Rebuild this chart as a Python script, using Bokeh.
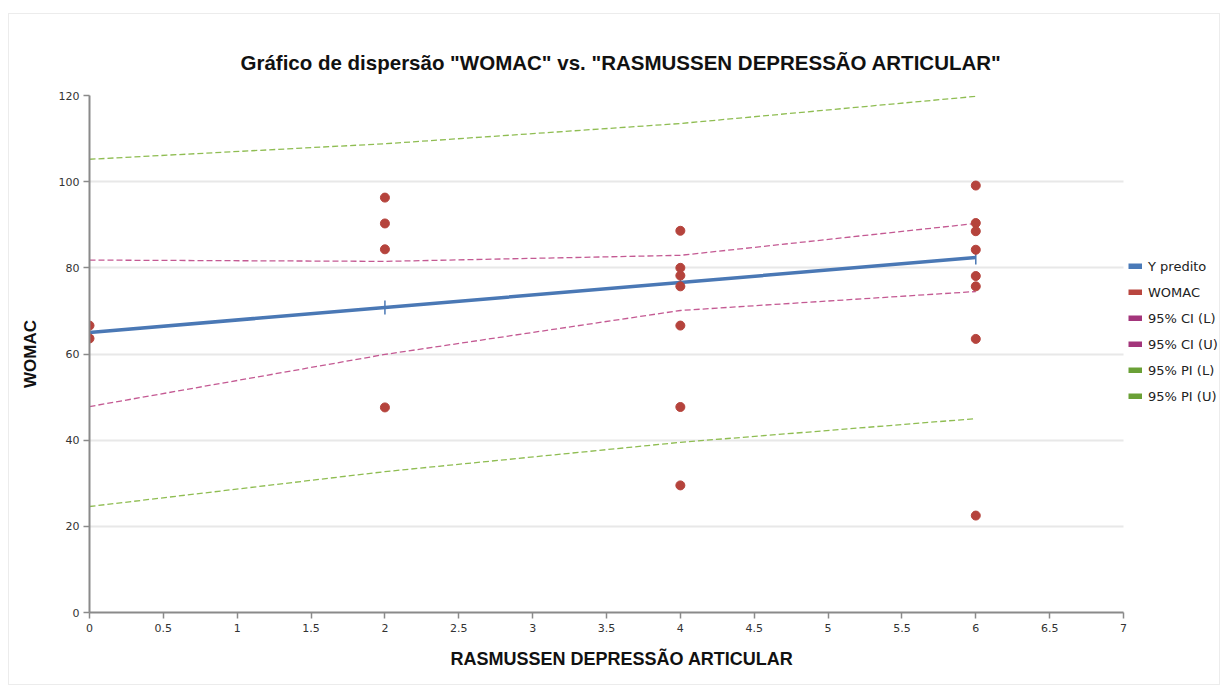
from bokeh.plotting import figure
from bokeh.models import (Range1d, FixedTicker, Legend, LegendItem, Title)
from bokeh.embed import file_html
from bokeh.resources import INLINE

# ---- data ----
x_obs = [0, 0, 2, 2, 2, 2, 4, 4, 4, 4, 4, 4, 4, 6, 6, 6, 6, 6, 6, 6, 6]
womac_obs = [66.6, 63.6, 96.3, 90.3, 84.3, 47.6, 88.6, 80.0, 78.2, 75.7, 66.6, 47.7, 29.5,
             99.1, 90.4, 88.5, 84.2, 78.1, 75.7, 63.5, 22.5]
x_pred = [0, 2, 4, 6]
y_pred = [65.0, 70.8, 76.6, 82.4]
ci_low = [47.8, 59.9, 70.1, 74.5]
ci_up = [81.8, 81.5, 82.9, 90.3]
pi_low = [24.6, 32.7, 39.5, 45.0]
pi_up = [105.2, 108.8, 113.5, 119.8]
x_ticks = [0, 0.5, 1, 1.5, 2, 2.5, 3, 3.5, 4, 4.5, 5, 5.5, 6, 6.5, 7]
x_tick_labels = ["0", "0.5", "1", "1.5", "2", "2.5", "3", "3.5", "4", "4.5", "5", "5.5", "6", "6.5", "7"]
y_ticks = [0, 20, 40, 60, 80, 100, 120]
series_names = ["Y predito", "WOMAC", "95% CI (L)", "95% CI (U)", "95% PI (L)", "95% PI (U)"]
legend_colors = ["#4a7ab8", "#b9463f", "#a3357b", "#a3357b", "#6aa036", "#6aa036"]

BLUE = "#4a78b5"
RED = "#b5433c"
CI = "#c45a93"
PI = "#8fbd52"
FONT = "DejaVu Sans"
BOLD = "Liberation Sans"

X_MAX = 7
# frame spans to the right edge so the legend can sit inside it; axis stops at 7
CANVAS_W, CANVAS_H = 1212, 672
LEFT, TOP, BOTTOM = 80, 81, 74
AXIS_PX = 1034  # pixel length of 0..7
frame_w = CANVAS_W - LEFT
x_end = X_MAX * frame_w / AXIS_PX

p = figure(width=CANVAS_W, height=CANVAS_H, output_backend="svg", toolbar_location=None,
           x_range=Range1d(0, x_end), y_range=Range1d(0, 120),
           min_border_left=LEFT, min_border_right=0, min_border_top=TOP, min_border_bottom=BOTTOM)
p.styles = {"margin-left": "8px", "margin-top": "13px", "border": "1px solid #ececec"}
p.outline_line_color = None
p.background_fill_color = "white"
p.border_fill_color = "white"

p.title = Title(text='Gráfico de dispersão "WOMAC" vs. "RASMUSSEN DEPRESSÃO ARTICULAR"',
                align="left", text_font=BOLD, text_font_size="20.5px", text_font_style="bold",
                text_color="#111111", offset=151, standoff=43)

# grid
p.xgrid.visible = False
p.ygrid.ticker = FixedTicker(ticks=y_ticks)
p.ygrid.grid_line_color = "#e8e8e8"
p.ygrid.grid_line_width = 2
if "cross_bounds" in p.ygrid[0].properties():
    p.ygrid.cross_bounds = (0, X_MAX)
else:
    p.ygrid.visible = False
    p.segment(x0=[0] * len(y_ticks), x1=[X_MAX] * len(y_ticks), y0=y_ticks, y1=y_ticks,
              line_color="#e8e8e8", line_width=2, level="underlay")

# axes
for ax in (p.xaxis[0], p.yaxis[0]):
    ax.axis_line_color = "#8a8a8a"
    ax.axis_line_width = 2
    ax.major_tick_line_color = "#8a8a8a"
    ax.major_tick_line_width = 1.5
    ax.major_tick_out = 6
    ax.major_tick_in = 0
    ax.minor_tick_line_color = None
    ax.major_label_text_font = FONT
    ax.major_label_text_font_size = "11px"
    ax.major_label_text_color = "#333333"
p.xaxis[0].bounds = (0, X_MAX)
p.xaxis[0].ticker = FixedTicker(ticks=x_ticks)
p.xaxis[0].major_label_overrides = {t: l for t, l in zip(x_ticks, x_tick_labels)}
p.xaxis[0].major_label_standoff = 5
p.yaxis[0].ticker = FixedTicker(ticks=y_ticks)
p.yaxis[0].major_label_standoff = 4
p.yaxis[0].axis_label = "WOMAC"
p.yaxis[0].axis_label_text_font = BOLD
p.yaxis[0].axis_label_text_font_size = "17px"
p.yaxis[0].axis_label_text_font_style = "bold"
p.yaxis[0].axis_label_text_color = "#111111"
p.yaxis[0].axis_label_standoff = 16

p.add_layout(Title(text="RASMUSSEN DEPRESSÃO ARTICULAR", align="left", text_font=BOLD,
                   text_font_size="18px", text_font_style="bold", text_color="#111111",
                   offset=361, standoff=24), "below")

# series
p.line(x_pred, pi_up, line_color=PI, line_width=1.3, line_dash="6 3")
p.line(x_pred, pi_low, line_color=PI, line_width=1.3, line_dash="6 3")
p.line(x_pred, ci_up, line_color=CI, line_width=1.3, line_dash="6 3")
p.line(x_pred, ci_low, line_color=CI, line_width=1.3, line_dash="6 3")
p.line(x_pred, y_pred, line_color=BLUE, line_width=3.5)
p.scatter(x_pred, y_pred, marker="dash", angle=1.5708, size=14, line_color=BLUE, line_width=1.5)
p.scatter(x_obs, womac_obs, marker="circle", size=9, fill_color=RED, line_color=RED)

# legend with rectangular swatches (hidden thick-line renderers used only as legend glyphs)
items = []
for name, col in zip(series_names, legend_colors):
    r = p.line(x_pred, y_pred, line_color=col, line_width=6, line_cap="butt", visible=False)
    items.append(LegendItem(label=name, renderers=[r]))
legend = Legend(items=items, location=(1039, 208), orientation="vertical",
                glyph_width=14, glyph_height=6, label_standoff=6, label_height=16,
                spacing=10, padding=0, margin=0, border_line_color=None,
                background_fill_alpha=0, label_text_font=FONT, label_text_font_size="13px",
                label_text_color="#222222", click_policy="none")
p.add_layout(legend, "center")

open("out.html", "w").write(file_html(p, INLINE))
